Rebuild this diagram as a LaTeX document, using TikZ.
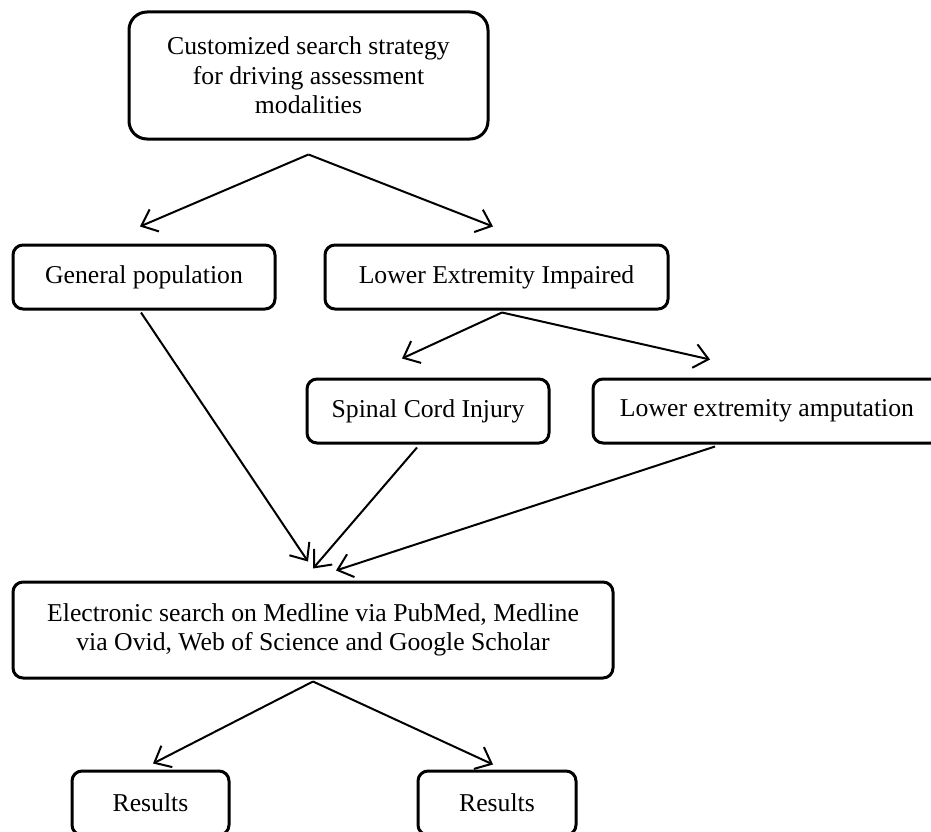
\documentclass[tikz,border=0pt]{standalone}
\usepackage{fontspec}
\setmainfont{Liberation Serif}
\usetikzlibrary{arrows.meta}
\begin{document}
\begin{tikzpicture}[x=1pt,y=-1pt,
  box/.style={draw, line width=3pt, rounded corners=10pt, align=center,
    inner sep=0pt, font=\fontsize{25.7}{29.5}\selectfont},
  arr/.style={line width=2pt, -{Straight Barb[length=14pt,width=24pt,line width=2pt]}}]
\useasboundingbox (0,0) rectangle (931,832);
\node[box, rounded corners=18pt, minimum width=359pt, minimum height=127pt] (top) at (308.5,75.5)
  {Customized search strategy\\for driving assessment\\modalities};
\node[box, minimum width=262pt, minimum height=64pt] (gp) at (144,277) {General population};
\node[box, minimum width=343pt, minimum height=64pt] (lei) at (496.5,277) {Lower Extremity Impaired};
\node[box, minimum width=242pt, minimum height=64pt] (sci) at (428,411) {Spinal Cord Injury};
\node[box, minimum width=348pt, minimum height=64pt] (lea) at (767,411) {Lower extremity amputation};
\node[box, minimum width=600pt, minimum height=96pt] (elec) at (313,630)
  {Electronic search on Medline via PubMed, Medline\\via Ovid, Web of Science and Google Scholar};
\node[box, minimum width=157pt, minimum height=64pt] (res1) at (150.5,803) {Results};
\node[box, minimum width=158pt, minimum height=64pt] (res2) at (497,803) {Results};

\draw[arr] ([yshift=-14pt]top.south) -- ([xshift=-4pt,yshift=17pt]gp.north);
\draw[arr] ([yshift=-14pt]top.south) -- ([xshift=-3.5pt,yshift=17pt]lei.north);
\draw[arr] ([xshift=-3pt,yshift=-2pt]gp.south) -- ([xshift=-5pt,yshift=19pt]elec.north);
\draw[arr] ([xshift=5.5pt,yshift=-2pt]lei.south) -- ([xshift=-26pt,yshift=19pt]sci.north);
\draw[arr] ([xshift=5.5pt,yshift=-2pt]lei.south) -- ([xshift=-57pt,yshift=18pt]lea.north);
\draw[arr] ([xshift=-11pt,yshift=-3pt]sci.south) -- ([xshift=0pt,yshift=12pt]elec.north);
\draw[arr] ([xshift=-52pt,yshift=-2pt]lea.south) -- ([xshift=23pt,yshift=10pt]elec.north);
\draw[arr] ([yshift=-2pt]elec.south) -- ([xshift=2.5pt,yshift=6pt]res1.north);
\draw[arr] ([yshift=-2pt]elec.south) -- ([xshift=-4pt,yshift=5pt]res2.north);
\end{tikzpicture}
\end{document}
